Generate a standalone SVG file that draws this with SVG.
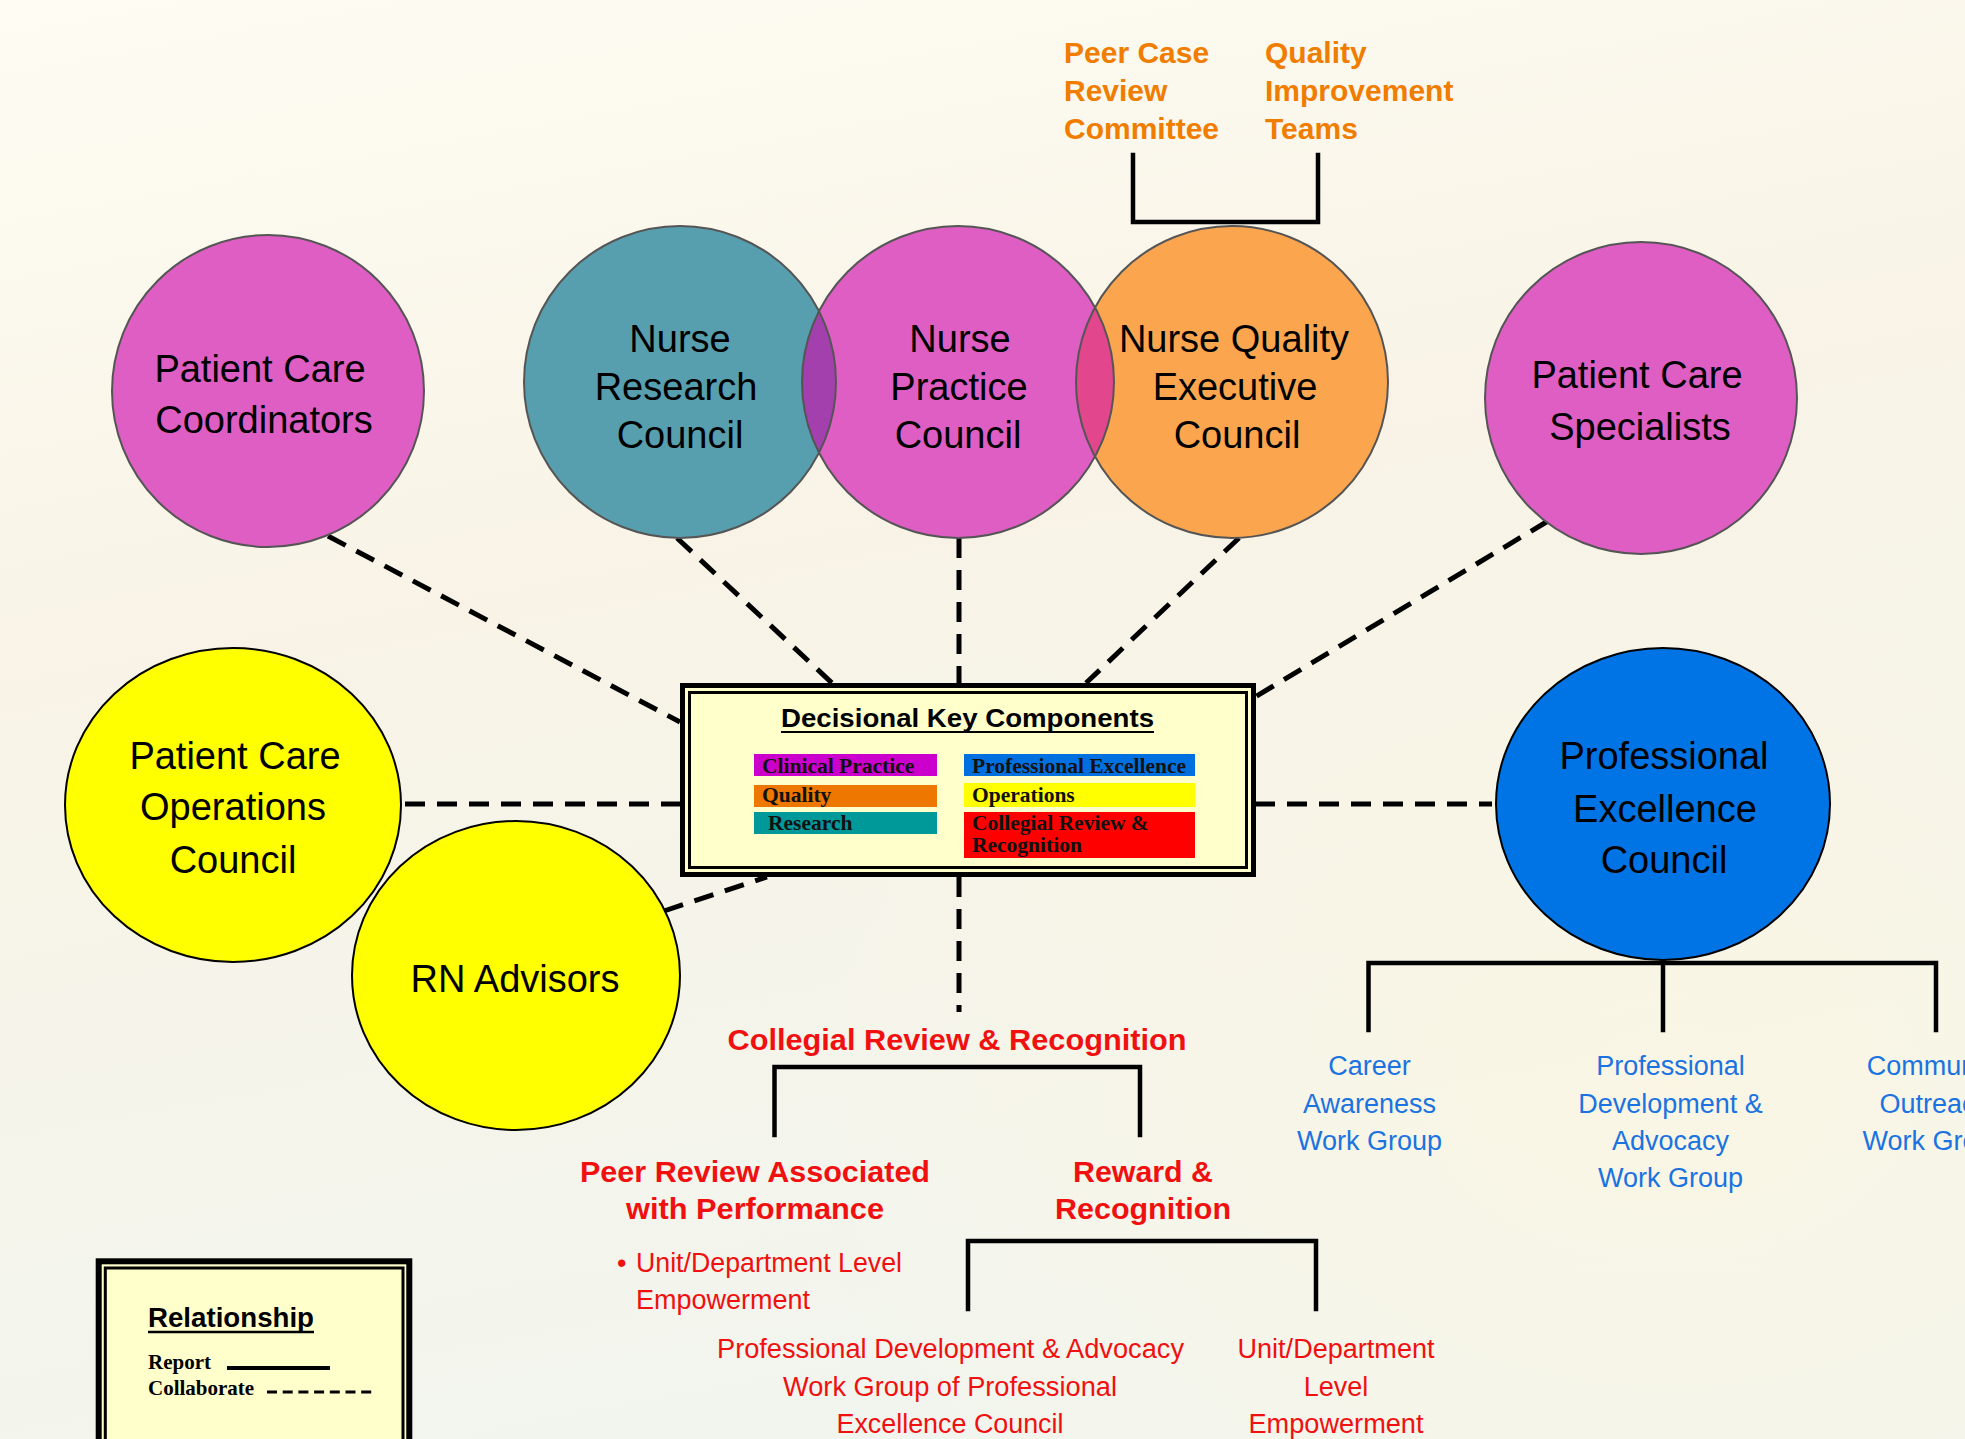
<svg xmlns="http://www.w3.org/2000/svg" width="1965" height="1439" viewBox="0 0 1965 1439">
<defs>
<linearGradient id="bg" x1="0" y1="0" x2="0.25" y2="1">
<stop offset="0" stop-color="#FEFCF3"/>
<stop offset="0.45" stop-color="#F8F3E6"/>
<stop offset="1" stop-color="#F2F5EE"/>
</linearGradient>
<radialGradient id="bgr" cx="0.85" cy="0.75" r="0.45">
<stop offset="0" stop-color="#FCF6E2" stop-opacity="0.8"/>
<stop offset="1" stop-color="#FCF6E2" stop-opacity="0"/>
</radialGradient>
<clipPath id="clipResearch"><circle cx="680" cy="382" r="156"/></clipPath>
<clipPath id="clipQuality"><circle cx="1232" cy="382" r="156"/></clipPath>
</defs>
<style>
.lbl{font-family:"Liberation Sans",Arial,sans-serif;font-size:38px;fill:#000;text-anchor:middle}
.dash{stroke:#000;stroke-width:5;stroke-dasharray:20 12;fill:none}
.solid{stroke:#000;stroke-width:4.5;fill:none;stroke-linecap:square}
.ring{stroke:#555;stroke-width:2}
.ringk{stroke:#000;stroke-width:2}
.org{font-family:"Liberation Sans",Arial,sans-serif;font-size:30px;font-weight:bold;fill:#F07D00}
.redb{font-family:"Liberation Sans",Arial,sans-serif;font-size:29px;font-weight:bold;fill:#F01010;text-anchor:middle}
.red{font-family:"Liberation Sans",Arial,sans-serif;font-size:27px;fill:#F01010}
.blue{font-family:"Liberation Sans",Arial,sans-serif;font-size:27px;fill:#1A73E0;text-anchor:middle}
.leg{font-family:"Liberation Serif","Times New Roman",serif;font-size:21.5px;font-weight:bold;fill:#111}
.mag{fill:#DE5EC3}
</style>
<rect width="1965" height="1439" fill="url(#bg)"/>
<rect width="1965" height="1439" fill="url(#bgr)"/>

<g id="connectors">
<line class="dash" x1="328" y1="536" x2="680" y2="722"/>
<line class="dash" x1="677" y1="538" x2="832" y2="683"/>
<line class="dash" x1="959" y1="538" x2="959" y2="683"/>
<line class="dash" x1="1239" y1="538" x2="1086" y2="683"/>
<line class="dash" x1="1548" y1="521" x2="1255" y2="697"/>
<line class="dash" x1="405" y1="804" x2="680" y2="804"/>
<line class="dash" x1="1255" y1="804" x2="1492" y2="804"/>
<line class="dash" x1="664" y1="911" x2="767" y2="877"/>
<line class="dash" x1="959" y1="877" x2="959" y2="1012"/>
<path class="solid" d="M1133,155 V222 H1318 V155"/>
<path class="solid" d="M1368.5,1030 V963 H1936 V1030 M1663,958 V1030"/>
<path class="solid" d="M774.5,1135 V1067 H1140 V1135"/>
<path class="solid" d="M968,1309 V1241 H1316 V1309"/>
</g>

<g id="pcc">
<circle class="mag ring" cx="268" cy="391" r="156"/>
<text class="lbl" x="260" y="382">Patient Care</text>
<text class="lbl" x="264" y="433">Coordinators</text>
</g>

<g id="nrc">
<circle cx="680" cy="382" r="156" fill="#579FAE"/>
</g>
<g id="npc">
<circle class="mag" cx="958" cy="382" r="156"/>
</g>
<g id="nqec">
<circle cx="1232" cy="382" r="156" fill="#FBA64F"/>
</g>
<g id="overlaps">
<circle cx="958" cy="382" r="156" fill="#A43FAE" clip-path="url(#clipResearch)"/>
<circle cx="958" cy="382" r="156" fill="#E2468C" clip-path="url(#clipQuality)"/>
<circle cx="680" cy="382" r="156" fill="none" class="ring"/>
<circle cx="958" cy="382" r="156" fill="none" class="ring"/>
<circle cx="1232" cy="382" r="156" fill="none" class="ring"/>
</g>
<g id="nrc-text">
<text class="lbl" x="680" y="352">Nurse</text>
<text class="lbl" x="676" y="400">Research</text>
<text class="lbl" x="680" y="448">Council</text>
</g>
<g id="npc-text">
<text class="lbl" x="960" y="352">Nurse</text>
<text class="lbl" x="959" y="400">Practice</text>
<text class="lbl" x="958" y="448">Council</text>
</g>
<g id="nqec-text">
<text class="lbl" x="1234" y="352">Nurse Quality</text>
<text class="lbl" x="1235" y="400">Executive</text>
<text class="lbl" x="1237" y="448">Council</text>
</g>

<g id="pcs">
<circle class="mag ring" cx="1641" cy="398" r="156"/>
<text class="lbl" x="1637" y="388">Patient Care</text>
<text class="lbl" x="1640" y="440">Specialists</text>
</g>

<g id="pcoc">
<ellipse class="ringk" cx="233" cy="805" rx="168" ry="157" fill="#FFFF00"/>
<text class="lbl" x="235" y="769">Patient Care</text>
<text class="lbl" x="233" y="820">Operations</text>
<text class="lbl" x="233" y="873">Council</text>
</g>

<g id="rn">
<ellipse class="ringk" cx="516" cy="975.5" rx="164" ry="154.5" fill="#FFFF00"/>
<text class="lbl" x="515" y="992">RN Advisors</text>
</g>

<g id="pec">
<ellipse class="ringk" cx="1663" cy="804" rx="167" ry="156" fill="#0074E4"/>
<text class="lbl" x="1664" y="769">Professional</text>
<text class="lbl" x="1665" y="822">Excellence</text>
<text class="lbl" x="1664" y="873">Council</text>
</g>

<g id="dkc">
<rect x="682.5" y="685.5" width="571" height="189" fill="#FFFFCC" stroke="#000" stroke-width="5"/>
<rect x="689.5" y="692.5" width="557" height="175" fill="none" stroke="#000" stroke-width="3"/>
<text x="967.5" y="727" font-family="Liberation Sans, Arial, sans-serif" font-size="26" font-weight="bold" text-anchor="middle" textLength="373" lengthAdjust="spacingAndGlyphs" fill="#000">Decisional Key Components</text>
<line x1="781" y1="732" x2="1154" y2="732" stroke="#000" stroke-width="2.2"/>
<rect x="754" y="754" width="183" height="22" fill="#CC00CC"/>
<rect x="754" y="785" width="183" height="22" fill="#EE7700"/>
<rect x="754" y="812" width="183" height="22" fill="#009999"/>
<rect x="964" y="754" width="231" height="22" fill="#0070E0"/>
<rect x="964" y="783" width="231" height="24" fill="#FFFF00"/>
<rect x="964" y="812" width="231" height="46" fill="#FF0000"/>
<text class="leg" x="762" y="773">Clinical Practice</text>
<text class="leg" x="762" y="802">Quality</text>
<text class="leg" x="768" y="830">Research</text>
<text class="leg" x="972" y="773">Professional Excellence</text>
<text class="leg" x="972" y="802">Operations</text>
<text class="leg" x="972" y="830">Collegial Review &amp;</text>
<text class="leg" x="972" y="852">Recognition</text>
</g>

<g id="pcrc">
<text class="org" x="1064" y="63">Peer Case</text>
<text class="org" x="1064" y="101">Review</text>
<text class="org" x="1064" y="139">Committee</text>
</g>
<g id="qit">
<text class="org" x="1265" y="63">Quality</text>
<text class="org" x="1265" y="101">Improvement</text>
<text class="org" x="1265" y="139">Teams</text>
</g>

<g id="crr">
<text class="redb" x="957" y="1050" textLength="459" lengthAdjust="spacingAndGlyphs">Collegial Review &amp; Recognition</text>
</g>
<g id="pra">
<text class="redb" x="755" y="1182" textLength="350" lengthAdjust="spacingAndGlyphs">Peer Review Associated</text>
<text class="redb" x="755" y="1219" textLength="258" lengthAdjust="spacingAndGlyphs">with Performance</text>
<text class="red" x="617" y="1272">•</text>
<text class="red" x="636" y="1272" textLength="266" lengthAdjust="spacingAndGlyphs">Unit/Department Level</text>
<text class="red" x="636" y="1309" textLength="174" lengthAdjust="spacingAndGlyphs">Empowerment</text>
</g>
<g id="rr">
<text class="redb" x="1143" y="1182" textLength="140" lengthAdjust="spacingAndGlyphs">Reward &amp;</text>
<text class="redb" x="1143" y="1219" textLength="176" lengthAdjust="spacingAndGlyphs">Recognition</text>
</g>
<g id="pdawg-red">
<text class="red" x="950.5" y="1358" text-anchor="middle" textLength="467" lengthAdjust="spacingAndGlyphs">Professional Development &amp; Advocacy</text>
<text class="red" x="950" y="1396" text-anchor="middle" textLength="334" lengthAdjust="spacingAndGlyphs">Work Group of Professional</text>
<text class="red" x="950" y="1433" text-anchor="middle" textLength="227" lengthAdjust="spacingAndGlyphs">Excellence Council</text>
</g>
<g id="udle">
<text class="red" x="1336" y="1358" text-anchor="middle" textLength="197" lengthAdjust="spacingAndGlyphs">Unit/Department</text>
<text class="red" x="1336" y="1396" text-anchor="middle">Level</text>
<text class="red" x="1336" y="1433" text-anchor="middle" textLength="175" lengthAdjust="spacingAndGlyphs">Empowerment</text>
</g>

<g id="cawg">
<text class="blue" x="1369.5" y="1075">Career</text>
<text class="blue" x="1369.5" y="1113">Awareness</text>
<text class="blue" x="1369.5" y="1150">Work Group</text>
</g>
<g id="pdawg">
<text class="blue" x="1670.5" y="1075">Professional</text>
<text class="blue" x="1670.5" y="1113">Development &amp;</text>
<text class="blue" x="1670.5" y="1150">Advocacy</text>
<text class="blue" x="1670.5" y="1187">Work Group</text>
</g>
<g id="cowg">
<text class="blue" x="1935" y="1075">Community</text>
<text class="blue" x="1935" y="1113">Outreach</text>
<text class="blue" x="1935" y="1150">Work Group</text>
</g>

<g id="legend">
<rect x="98.7" y="1261.3" width="310.6" height="260" fill="#FFFFCC" stroke="#000" stroke-width="6"/>
<rect x="105.3" y="1268" width="297.7" height="250" fill="none" stroke="#000" stroke-width="3"/>
<text x="148" y="1327" font-family="Liberation Sans, Arial, sans-serif" font-size="27" font-weight="bold" fill="#000" textLength="166" lengthAdjust="spacingAndGlyphs">Relationship</text>
<line x1="148" y1="1332" x2="314" y2="1332" stroke="#000" stroke-width="2.5"/>
<text x="148" y="1369" font-family="Liberation Serif, Times New Roman, serif" font-size="21" font-weight="bold" fill="#000">Report</text>
<line x1="227" y1="1368" x2="330" y2="1368" stroke="#000" stroke-width="4"/>
<text x="148" y="1395" font-family="Liberation Serif, Times New Roman, serif" font-size="21" font-weight="bold" fill="#000">Collaborate</text>
<line x1="267" y1="1392" x2="373" y2="1392" stroke="#000" stroke-width="3" stroke-dasharray="10 5.7"/>
</g>
</svg>
